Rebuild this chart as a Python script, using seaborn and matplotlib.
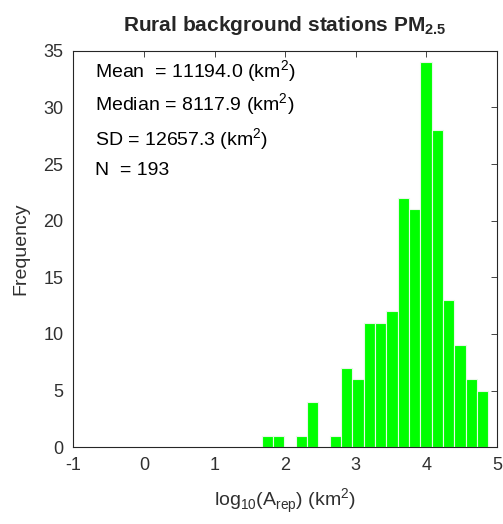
import matplotlib
matplotlib.use("Agg")
import matplotlib.pyplot as plt
import numpy as np
import pandas as pd
import seaborn as sns

# histogram of log10(A_rep), counts
counts = [1, 1, 0, 1, 4, 0, 1, 7, 6, 11, 11, 12, 22, 21, 34, 28, 13, 9, 6, 5]
bin_edges = np.linspace(1.668, 4.878, len(counts) + 1)
bin_centers = (bin_edges[:-1] + bin_edges[1:]) / 2

stats_lines = [
    r"Mean  = 11194.0 (km$^2$)",
    r"Median = 8117.9 (km$^2$)",
    r"SD = 12657.3 (km$^2$)",
    r"N  = 193",
]

df = pd.DataFrame({"logA": bin_centers, "n": counts})

sns.set_style("white")
plt.rcParams["font.family"] = ["Liberation Sans", "DejaVu Sans"]
plt.rcParams["mathtext.fontset"] = "custom"
plt.rcParams["mathtext.rm"] = "Liberation Sans"
plt.rcParams["mathtext.bf"] = "Liberation Sans:bold"
plt.rcParams["axes.unicode_minus"] = False

fig = plt.figure(figsize=(5.03, 5.24), dpi=100)
ax = fig.add_axes([0.1457, 0.1464, 0.8423, 0.7568])

sns.histplot(data=df, x="logA", weights="n", bins=list(bin_edges), ax=ax,
             color="#00ff00", alpha=1, edgecolor="#e8f8e8", linewidth=0.8)

ax.set_xlim(-1, 5)
ax.set_ylim(0, 35)
ax.set_xticks(range(-1, 6))
ax.set_yticks(range(0, 36, 5))
grey = "#262626"
for s in ax.spines.values():
    s.set_color(grey)
    s.set_linewidth(0.8)
ax.tick_params(direction="in", length=4, width=0.6, colors=grey,
               labelsize=13, top=True, right=True, pad=7)
for lab in ax.get_xticklabels() + ax.get_yticklabels():
    lab.set_color("#303030")

ax.set_xlabel(r"log$_{10}$(A$_{\rm rep}$) (km$^2$)", fontsize=14, color="#303030", labelpad=9)
ax.set_ylabel("Frequency", fontsize=14, color="#303030", labelpad=10)
ax.set_title(r"Rural background stations PM$_{\mathbf{2.5}}$", fontsize=15,
             fontweight="bold", pad=14)

for ypos, line in zip([0.947, 0.863, 0.775, 0.698], stats_lines):
    ax.text(0.051, ypos, line, transform=ax.transAxes, fontsize=14,
            va="center", ha="left", color="black")

fig.savefig("out.png", dpi=100)
